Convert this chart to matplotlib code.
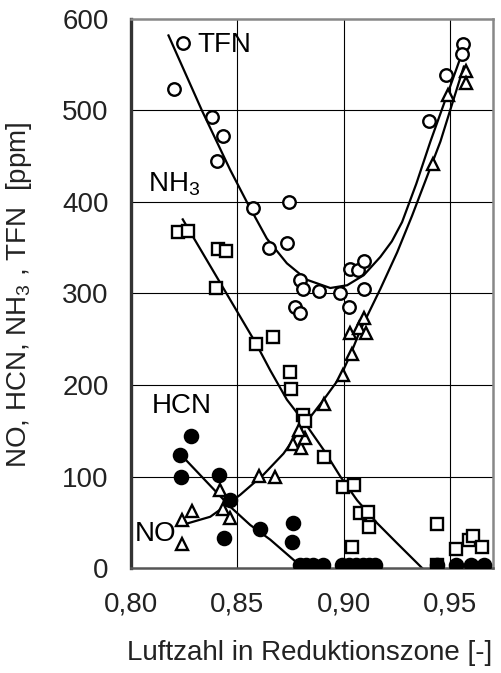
import matplotlib
matplotlib.use('Agg')
import matplotlib.pyplot as plt
from matplotlib import rcParams

rcParams['font.family'] = ['Liberation Sans', 'DejaVu Sans']
rcParams['mathtext.fontset'] = 'custom'
rcParams['mathtext.rm'] = 'Liberation Sans'
rcParams['axes.unicode_minus'] = False

# measured points (Luftzahl, ppm)
tfn_x = [0.8246, 0.8204, 0.838, 0.8434, 0.8406, 0.8575, 0.874, 0.8646, 0.8732, 0.8795, 0.8808, 0.8881,
         0.8771, 0.8795, 0.898, 0.9027, 0.9065, 0.9096, 0.9096, 0.9025, 0.956, 0.9555, 0.948, 0.94]
tfn_y = [574, 523, 493, 472, 445, 393, 400, 350, 355, 315, 305, 303,
         285, 279, 300, 327, 326, 335, 305, 285, 573, 562, 539, 489]

nh3_x = [0.822, 0.8267, 0.841, 0.8445, 0.840, 0.8588, 0.8666, 0.8748, 0.8751, 0.881, 0.8818, 0.8905,
         0.8995, 0.9046, 0.9077, 0.9111, 0.9119, 0.904, 0.9438, 0.9527, 0.9587, 0.9607, 0.965, 0.9438]
nh3_y = [367, 368, 349, 346, 306, 245, 252, 214, 196, 167, 161, 121,
         89, 91, 60, 61, 45, 23, 48, 21, 31, 35, 23, 3]

no_x = [0.8238, 0.8286, 0.8238, 0.8419, 0.8431, 0.8466, 0.8599, 0.8677, 0.8761, 0.8798, 0.8818, 0.8791,
        0.8905, 0.8995, 0.9038, 0.9027, 0.907, 0.9093, 0.9105, 0.9419, 0.9488, 0.9571, 0.9571]
no_y = [53, 62, 26, 85, 65, 55, 101, 100, 135, 131, 142, 151,
        179, 211, 234, 257, 262, 273, 257, 441, 517, 543, 530]

hcn_x = [0.8282, 0.823, 0.8235, 0.8414, 0.8466, 0.8437, 0.8604, 0.8763, 0.8756,
         0.8795, 0.8823, 0.8856, 0.8904, 0.8993, 0.9022, 0.9055, 0.9088, 0.9116, 0.9148,
         0.9439, 0.9524, 0.9595, 0.9656]
hcn_y = [144, 124, 100, 102, 74, 33, 43, 49, 28,
         3, 3, 3, 3, 3, 3, 3, 3, 3, 3,
         3, 3, 3, 3]

# hand drawn trend curves
tfn_cx = [0.8176, 0.8333, 0.8466, 0.8544, 0.8638, 0.8732, 0.8826, 0.8936, 0.9015, 0.9093,
          0.9171, 0.9225, 0.9273, 0.934, 0.9406, 0.954]
tfn_cy = [582, 500, 435, 400, 360, 333, 315, 306, 309, 320, 340, 357, 378, 420, 466, 553]

no_cx = [0.8254, 0.8372, 0.845, 0.8513, 0.8622, 0.8716, 0.8795, 0.8842, 0.8905, 0.8983, 0.903, 0.9077,
         0.9171, 0.925, 0.932, 0.9453, 0.9563]
no_cy = [48, 56, 69, 80, 102, 125, 151, 165, 184, 209, 233, 260, 305, 345, 385, 466, 548]

hcn_cx = [0.8254, 0.8466, 0.856, 0.8654, 0.8763, 0.8795]
hcn_cy = [119, 67, 47, 31, 9, 3]

nh3_cx = [0.8243, 0.8588, 0.8654, 0.8732, 0.8818, 0.8905, 0.8983, 0.9062, 0.9156, 0.925, 0.9367]
nh3_cy = [381, 245, 216, 184, 158, 129, 100, 74, 49, 27, 0]

xticks = [0.80, 0.85, 0.90, 0.95]
xticklabels = ['0,80', '0,85', '0,90', '0,95']
yticks = [0, 100, 200, 300, 400, 500, 600]

fig = plt.figure(figsize = (5.01, 6.73), dpi = 100)
ax = fig.add_axes([0.2615, 0.156, 0.7225, 0.8158])

for v in xticks[1:]:
    ax.axvline(v, color = 'black', lw = 0.8, zorder = 1)
for v in yticks[1:-1]:
    ax.axhline(v, color = 'black', lw = 0.8, zorder = 1)

for cx, cy in [(tfn_cx, tfn_cy), (no_cx, no_cy), (hcn_cx, hcn_cy), (nh3_cx, nh3_cy)]:
    ax.plot(cx, cy, color = 'black', lw = 1.6, zorder = 2)

mk = dict(ls = 'none', mec = 'black', mew = 1.7, zorder = 3)
ax.plot(tfn_x, tfn_y, marker = 'o', ms = 9, mfc = 'white', **mk)
ax.plot(nh3_x, nh3_y, marker = 's', ms = 8.5, mfc = 'white', **mk)
ax.plot(no_x, no_y, marker = '^', ms = 9, mfc = 'white', **mk)
ax.plot(hcn_x, hcn_y, marker = 'o', ms = 9.5, mfc = 'black', **mk)

ax.text(0.831, 572, 'TFN', fontsize = 20, va = 'center', ha = 'left')
ax.text(0.808, 420, r'NH$_\mathregular{3}$', fontsize = 20, va = 'center', ha = 'left')
ax.text(0.8099, 177, 'HCN', fontsize = 20, va = 'center', ha = 'left')
ax.text(0.8019, 37, 'NO', fontsize = 20, va = 'center', ha = 'left')

ax.set_xlim(0.80, 0.97)
ax.set_ylim(0, 600)
ax.set_xticks(xticks)
ax.set_xticklabels(xticklabels)
ax.set_yticks(yticks)
ax.tick_params(length = 0, labelsize = 20, colors = '#222222')
ax.tick_params(axis = 'x', pad = 17)
ax.tick_params(axis = 'y', pad = 16)

ax.spines['left'].set_color('#333333')
ax.spines['left'].set_linewidth(2.4)
for s in ['top', 'right', 'bottom']:
    ax.spines[s].set_color('#888888')
    ax.spines[s].set_linewidth(1.8)
ax.spines['bottom'].set_color('#555555')

ax.set_xlabel('Luftzahl in Reduktionszone [-]', fontsize = 20, color = '#222222')
ax.xaxis.set_label_coords(0.494, -0.131)
ax.xaxis.label.set_va('top')
ax.set_ylabel(r'NO, HCN, NH$_\mathregular{3}$ , TFN  [ppm]', fontsize = 20, color = '#222222')
ax.yaxis.set_label_coords(-0.268, 0.497)

plt.savefig('out.png', dpi = 100)
